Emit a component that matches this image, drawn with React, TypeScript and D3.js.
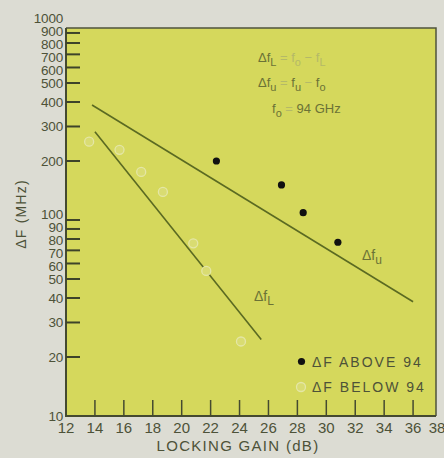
import React from 'react';
import * as d3 from 'd3';

// locking gain axis (dB)
const xTicks = [12, 14, 16, 18, 20, 22, 24, 26, 28, 30, 32, 34, 36, 38];
// delta F axis (MHz), log
const yLabels = [10, 20, 30, 40, 50, 60, 70, 80, 90, 100, 200, 300, 400, 500, 600, 700, 800, 900, 1000];
const yTicks = [20, 30, 40, 50, 60, 70, 80, 90, 100, 200, 300, 400, 500, 600, 700, 800, 900];

// measured points
const aboveGain = [22.4, 26.9, 28.4, 30.8];
const aboveDf = [200, 151, 109, 77];
const belowGain = [13.6, 15.7, 17.2, 18.7, 20.8, 21.7, 24.1];
const belowDf = [251, 228, 176, 139, 76, 55, 24];

// fitted lines
const fitUGain = [13.8, 36.0];
const fitUDf = [386, 38.3];
const fitLGain = [14.0, 25.5];
const fitLDf = [282, 24.6];

const W = 444;
const H = 458;
const box = { left: 66, top: 28, right: 436, bottom: 416 };

const ink = '#4d5238';
const lineCol = '#5b6a22';
const font = '"Liberation Sans", Arial, sans-serif';

// push crowded labels apart so they don't sit on top of each other
function dodge(pos: number[], gap: number) {
  const p = pos.slice();
  for (let k = 0; k < 80; k++) {
    for (let i = 1; i < p.length; i++) {
      const d = p[i] - p[i - 1];
      if (d < gap) {
        const s = (gap - d) / 2;
        p[i - 1] -= s;
        p[i] += s;
      }
    }
  }
  return p;
}

const App = () => {
  const x = d3.scaleLinear().domain([12, 38]).range([66, 442]);
  const y = d3.scaleLog().domain([10, 1000]).range([416, 24]);

  const line = d3.line<[number, number]>()
    .x(d => x(d[0]))
    .y(d => y(d[1]));

  const fitU: [number, number][] = fitUGain.map((g, i) => [g, fitUDf[i]]);
  const fitL: [number, number][] = fitLGain.map((g, i) => [g, fitLDf[i]]);

  // labels from top (1000) to bottom (10)
  const labelVals = yLabels.slice().reverse();
  const labelY = dodge(labelVals.map(v => y(v)), 13);

  const pale = '#b4b968';
  const mid = '#6b7236';
  const faintFill = '#d9dc72';
  const faintStroke = '#e4e6a6';

  return (
    <svg width={W} height={H} style={{ position: 'absolute', left: 0, top: 0 }} fontFamily={font}>
      <rect x={0} y={0} width={W} height={H} fill="#dcdcd3" />
      <rect x={box.left} y={box.top} width={box.right - box.left} height={box.bottom - box.top} fill="#d5d85c" />
      {/* frame */}
      <path d={`M${box.left},${box.top}H${box.right}V${box.bottom}`} fill="none" stroke="#4f533d" strokeWidth={1.5} />
      <path d={`M${box.left},${box.top}V${box.bottom}H${box.right}`} fill="none" stroke="#454a30" strokeWidth={2} />

      {/* y ticks, pointing in */}
      {yTicks.map(t => (
        <line key={'yt' + t} x1={box.left} x2={box.left + 14} y1={y(t)} y2={y(t)} stroke="#3e432a" strokeWidth={2} />
      ))}
      {labelVals.map((t, i) => (
        <text key={'yl' + t} x={63} y={labelY[i]} dy="0.36em" textAnchor="end" fontSize={13.5} fill={ink} letterSpacing={-0.2}>
          {t}
        </text>
      ))}

      {/* x ticks, pointing up */}
      {xTicks.filter(t => t > 12 && t < 38).map(t => (
        <line key={'xt' + t} x1={x(t)} x2={x(t)} y1={box.bottom} y2={box.bottom - 16} stroke="#454a30" strokeWidth={1.5} />
      ))}
      {xTicks.map(t => (
        <text key={'xl' + t} x={Math.min(x(t), W - 7)} y={433} textAnchor="middle" fontSize={15} fill={ink}>
          {t}
        </text>
      ))}

      {/* axis titles */}
      <text x={238} y={451} textAnchor="middle" fontSize={15} fill={ink} letterSpacing={1.3}>
        LOCKING GAIN (dB)
      </text>
      <text transform="translate(26,214) rotate(-90)" textAnchor="middle" fontSize={14} fill={ink} letterSpacing={1.2}>
        ΔF (MHz)
      </text>

      {/* fitted lines */}
      <path d={line(fitU) || ''} fill="none" stroke={lineCol} strokeWidth={1.6} />
      <path d={line(fitL) || ''} fill="none" stroke={lineCol} strokeWidth={1.6} />

      {/* points */}
      {belowGain.map((g, i) => (
        <circle key={'b' + i} cx={x(g)} cy={y(belowDf[i])} r={4.5} fill={faintFill} stroke={faintStroke} strokeWidth={1.3} />
      ))}
      {aboveGain.map((g, i) => (
        <circle key={'a' + i} cx={x(g)} cy={y(aboveDf[i])} r={3.6} fill="#111" />
      ))}

      {/* line labels */}
      <text x={362} y={260} fontSize={14} fill={mid}>
        Δf<tspan dy={4} fontSize={12}>u</tspan>
      </text>
      <text x={254} y={301} fontSize={14} fill={mid}>
        Δf<tspan dy={4} fontSize={12}>L</tspan>
      </text>

      {/* definitions */}
      <text x={258} y={62} fontSize={13} fill={mid}>
        Δf<tspan dy={4} fontSize={11}>L</tspan>
        <tspan dy={-4} fill={pale}> = f</tspan>
        <tspan dy={4} fontSize={11} fill={pale}>o</tspan>
        <tspan dy={-4} fill={pale}> − f</tspan>
        <tspan dy={4} fontSize={11} fill={pale}>L</tspan>
      </text>
      <text x={258} y={87} fontSize={13} fill={mid}>
        Δf<tspan dy={4} fontSize={11}>u</tspan>
        <tspan dy={-4} fill={pale}> = </tspan>
        <tspan>f</tspan>
        <tspan dy={4} fontSize={11}>u</tspan>
        <tspan dy={-4} fill={pale}> − </tspan>
        <tspan>f</tspan>
        <tspan dy={4} fontSize={11}>o</tspan>
      </text>
      <text x={272} y={113} fontSize={13} fill={mid}>
        f<tspan dy={4} fontSize={11}>o</tspan>
        <tspan dy={-4} fill={pale}> = </tspan>
        <tspan>94 GHz</tspan>
      </text>

      {/* legend */}
      <circle cx={301.5} cy={361.5} r={3.6} fill="#111" />
      <text x={312} y={366.5} fontSize={14} fill={ink} letterSpacing={2}>ΔF ABOVE 94</text>
      <circle cx={301} cy={387} r={4.5} fill={faintFill} stroke={faintStroke} strokeWidth={1.3} />
      <text x={312} y={392} fontSize={14} fill={ink} letterSpacing={2}>ΔF BELOW 94</text>
    </svg>
  );
};

export default App;
